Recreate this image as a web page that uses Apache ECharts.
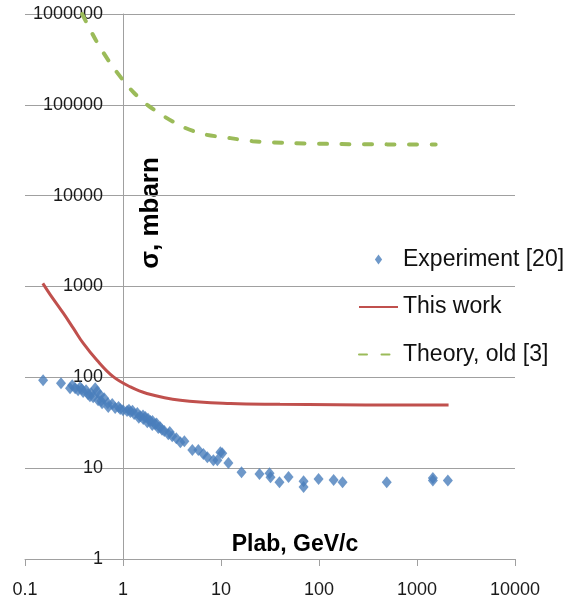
<!DOCTYPE html>
<html>
<head>
<meta charset="utf-8">
<script src="https://cdn.jsdelivr.net/npm/echarts@6/dist/echarts.min.js"></script>
<style>
html,body{margin:0;padding:0;background:#fff;}
#chart{width:570px;height:606px;}
</style>
</head>
<body>
<div id="chart"></div>
<script>
// Experiment [20]
var expX = [0.153, 0.233, 0.288, 0.303, 0.325, 0.348, 0.365, 0.38, 0.392, 0.42, 0.44, 0.46, 0.473, 0.496, 0.52, 0.545, 0.557, 0.585, 0.6, 0.612, 0.642, 0.7, 0.707, 0.776, 0.832, 0.9, 0.936, 1.0, 1.1, 1.15, 1.19, 1.25, 1.30, 1.40, 1.45, 1.50, 1.6, 1.61, 1.69, 1.77, 1.8, 1.90, 1.99, 2.0, 2.13, 2.2, 2.29, 2.40, 2.5, 2.64, 2.90, 3.0, 3.18, 3.50, 3.85, 4.23, 5.1, 5.87, 6.61, 7.26, 8.36, 9.18, 9.86, 10.3, 11.9, 16.2, 24.7, 31.3, 32, 39.5, 48.9, 69.6, 69.6, 99, 141, 174, 491, 1452, 1452, 2065];
var expY = [93, 86, 76, 82, 76, 72, 78, 74, 69, 72, 65, 62, 67, 60.5, 76, 70, 56, 64, 55, 52, 59, 52, 47, 51, 46, 47, 44.7, 43.5, 42.5, 44, 41.4, 43, 39.4, 40.4, 36, 37.4, 38, 34.7, 36.5, 32.1, 35, 33, 29.8, 33, 30.5, 31, 27.6, 28.3, 26.5, 25.6, 23.7, 25, 22.5, 21.4, 19.3, 19.8, 15.8, 15.8, 14.3, 13.2, 12.2, 12.2, 15, 14.6, 11.4, 9.0, 8.6, 8.8, 7.96, 7.0, 8.0, 7.2, 6.2, 7.6, 7.4, 7.0, 7.0, 7.8, 7.3, 7.3];
// This work
var workX = [0.152, 0.18, 0.247, 0.312, 0.394, 0.54, 0.8, 1.19, 1.75, 3.85, 12.5, 40, 150, 600, 2100];
var workY = [1081, 820, 505, 346, 236, 155, 101, 78.5, 66.5, 56, 51.5, 50.5, 50, 49.5, 49.5];
// Theory, old [3]
var oldX = [0.383, 0.544, 0.74, 1, 1.3, 1.77, 2.58, 4.13, 6.6, 12.5, 21, 50, 166, 500, 1550];
var oldY = [1000000, 487000, 289000, 187000, 135000, 100000, 75400, 56900, 47600, 43000, 39800, 38000, 37000, 36700, 36500];
// Labels
var seriesNames = ['Experiment [20]', 'This work', 'Theory, old [3]'];
var xTitle = 'Plab, GeV/c';
var yTitle = 'σ, mbarn';

function zip(a, b) { return a.map(function (v, i) { return [v, b[i]]; }); }
function fmt(v) { return String(Number(v.toPrecision(6))); }

var font = '"Liberation Sans", Arial, sans-serif';
var gridColor = '#a0a0a0';

var chart = echarts.init(document.getElementById('chart'), null, { renderer: 'canvas' });
chart.setOption({
  animation: false,
  backgroundColor: '#ffffff',
  grid: { left: 25, right: 55, top: 14, bottom: 47, containLabel: false },
  xAxis: {
    type: 'log', logBase: 10, min: 0.1, max: 10000,
    axisLine: { show: true, lineStyle: { color: gridColor, width: 1 } },
    axisTick: { show: true, length: 7, lineStyle: { color: gridColor } },
    minorTick: { show: false },
    splitLine: { show: false },
    axisLabel: { color: '#1a1a1a', fontSize: 18, fontFamily: font, margin: 22, formatter: fmt }
  },
  yAxis: {
    type: 'log', logBase: 10, min: 1, max: 1000000,
    offset: -98,
    axisLine: { show: true, lineStyle: { color: gridColor, width: 1 } },
    axisTick: { show: false },
    splitLine: { show: true, lineStyle: { color: gridColor, width: 1 } },
    axisLabel: { color: '#1a1a1a', fontSize: 18, fontFamily: font, margin: 20, formatter: fmt }
  },
  legend: {
    orient: 'vertical', left: 353, top: 242,
    itemWidth: 39, itemHeight: 10, itemGap: 22.5,
    textStyle: { color: '#111', fontSize: 23, fontFamily: font, lineHeight: 25 },
    data: [
      { name: seriesNames[0], icon: 'path://M5,0L9,5.5L5,11L1,5.5Z' },
      { name: seriesNames[1], itemStyle: { opacity: 0 } },
      { name: seriesNames[2], itemStyle: { opacity: 0 } }
    ]
  },
  graphic: [
    { type: 'text', x: 295, y: 545, style: { text: xTitle, font: 'bold 23px ' + font, fill: '#000', align: 'center', verticalAlign: 'middle' } },
    { type: 'text', x: 151, y: 213, rotation: Math.PI / 2, style: { text: yTitle, font: 'bold 26px ' + font, fill: '#000', align: 'center', verticalAlign: 'middle' } }
  ],
  series: [
    {
      name: seriesNames[0], type: 'scatter', data: zip(expX, expY),
      symbol: 'diamond', symbolSize: [10, 12],
      itemStyle: { color: '#4a7ebb' }, z: 3
    },
    {
      name: seriesNames[1], type: 'line', data: zip(workX, workY),
      symbol: 'none', smooth: 0.4,
      lineStyle: { color: '#c0504d', width: 3 }, itemStyle: { color: '#c0504d' }, z: 4
    },
    {
      name: seriesNames[2], type: 'line', data: zip(oldX, oldY),
      symbol: 'none', smooth: 0.3,
      lineStyle: { color: '#9bbb59', width: 4, type: [8, 14.5], cap: 'round' }, itemStyle: { color: '#9bbb59' }, z: 4
    }
  ]
});
</script>
</body>
</html>
